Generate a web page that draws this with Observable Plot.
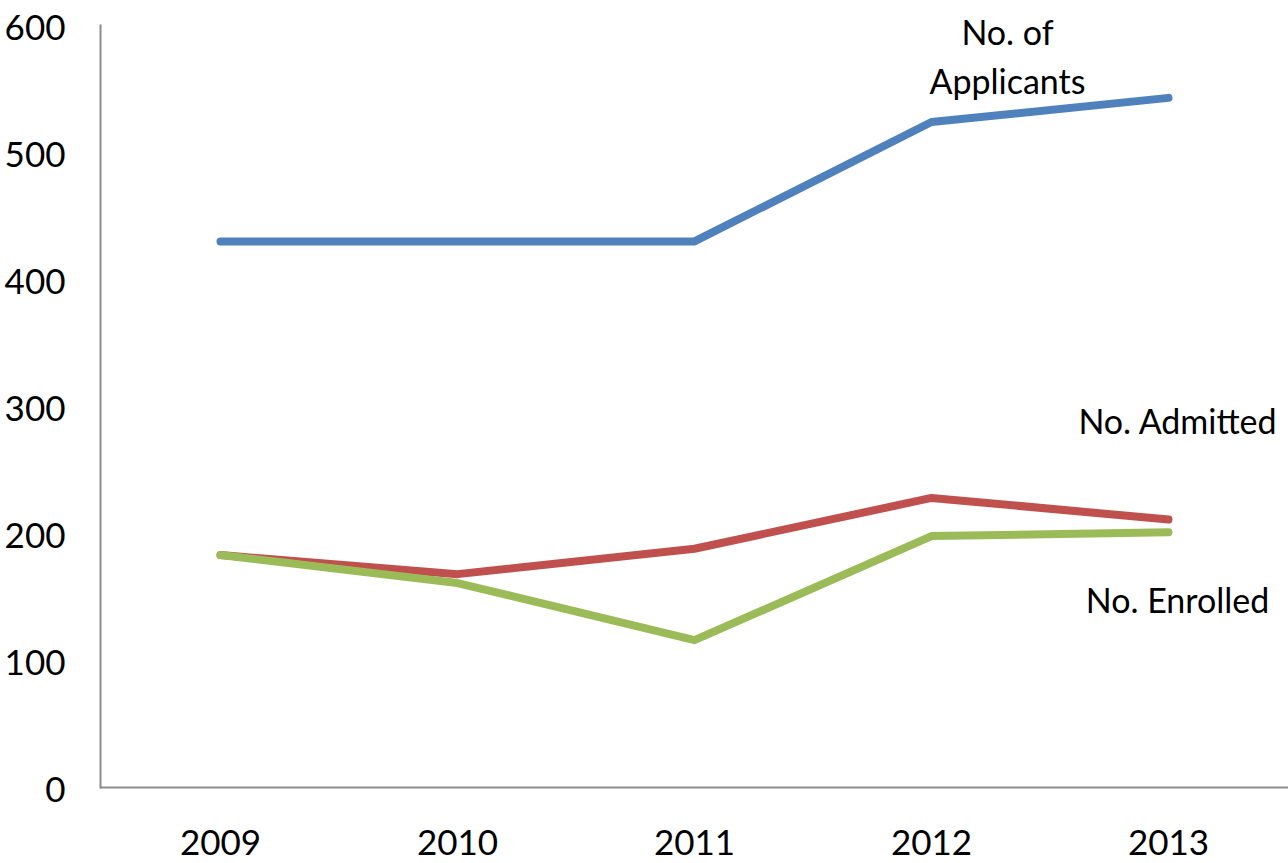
<!DOCTYPE html>
<html>
<head>
<meta charset="utf-8">
<script src="https://cdn.jsdelivr.net/npm/d3@7"></script>
<script src="https://cdn.jsdelivr.net/npm/@observablehq/plot@0.6"></script>
<style>
  html, body { margin: 0; padding: 0; background: #fff; }
  #chart svg { display: block; }
</style>
</head>
<body>
<div id="chart"></div>
<script>
const years = ["2009", "2010", "2011", "2012", "2013"];
const applicants = [430, 430, 430, 524, 543];
const admitted = [183, 168, 188, 228, 211];
const enrolled = [183, 161, 116, 198, 201];
const yTicks = [0, 100, 200, 300, 400, 500, 600];

const seriesNames = ["No. of\nApplicants", "No. Admitted", "No. Enrolled"];
const seriesColors = ["#4F81BD", "#C0504D", "#9BBB59"];
const labelYear = ["2012", "2013", "2013"];
const labelValue = [578, 287, 146];

const seriesValues = [applicants, admitted, enrolled];
const rows = seriesNames.flatMap((s, i) => years.map((y, j) => ({series: s, year: y, value: seriesValues[i][j]})));
const labels = seriesNames.map((s, i) => ({series: s, year: labelYear[i], value: labelValue[i]}));

const font = "Lato, 'Open Sans', sans-serif";

const chart = Plot.plot({
  width: 1288,
  height: 863,
  marginLeft: 100,
  marginRight: 0,
  marginTop: 25,
  marginBottom: 76,
  style: {fontFamily: font, fontSize: "34px", color: "#000", background: "#fff"},
  x: {type: "point", domain: years, padding: 0.5, label: null},
  y: {domain: [0, 600], label: null},
  color: {domain: seriesNames, range: seriesColors},
  marks: [
    Plot.frame({anchor: "left", stroke: "#8c8c8c", strokeWidth: 2}),
    Plot.ruleY([0], {stroke: "#8c8c8c", strokeWidth: 2}),
    Plot.axisY({ticks: yTicks, tickSize: 0, tickPadding: 35, fontSize: 35, dy: 3, label: null}),
    Plot.axisX({tickSize: 0, tickPadding: 43, fontSize: 35, label: null}),
    Plot.line(rows, {x: "year", y: "value", z: "series", stroke: "series", strokeWidth: 8, strokeLinejoin: "round", strokeLinecap: "round"}),
    Plot.text(labels.slice(0, 1), {x: "year", y: "value", text: "series", dx: 76, fontSize: 34, lineHeight: 1.45, fill: "#000"}),
    Plot.text(labels.slice(1), {x: "year", y: "value", text: "series", dx: 9, fontSize: 34, fill: "#000"})
  ]
});
document.getElementById("chart").appendChild(chart);
</script>
</body>
</html>
